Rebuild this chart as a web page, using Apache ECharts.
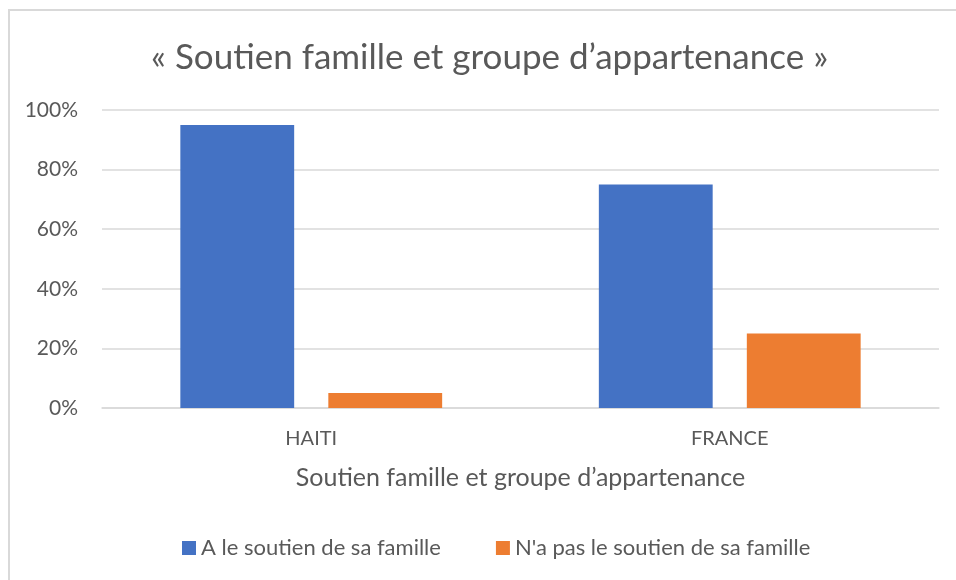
<!DOCTYPE html>
<html><head><meta charset="utf-8">
<script src="https://cdn.jsdelivr.net/npm/echarts@6/dist/echarts.min.js"></script>
<style>html,body{margin:0;padding:0;background:#fff}#c{width:956px;height:580px}</style>
</head><body><div id="c"></div>
<script>
const categories = ['HAITI', 'FRANCE'];
const seriesNames = ['A le soutien de sa famille', "N'a pas le soutien de sa famille"];
const withSupport = [95, 75];
const withoutSupport = [5, 25];
const yTicks = [0, 20, 40, 60, 80, 100];

const FONT = 'Lato, "Open Sans", sans-serif';
const TXT = '#595959';
const chart = echarts.init(document.getElementById('c'));
chart.setOption({
  animation: false,
  textStyle: { fontFamily: FONT },
  graphic: [{ type: 'rect', shape: { x: 9, y: 10, width: 960, height: 600 }, style: { fill: 'none', stroke: '#d9d9d9', lineWidth: 2 }, silent: true }],
  title: { text: '« Soutien famille et groupe d\u2019appartenance »', left: 146, top: 35, textStyle: { fontFamily: FONT, fontSize: 35, fontWeight: 'normal', color: TXT } },
  legend: { bottom: 16, left: 177, itemWidth: 14, itemHeight: 14, itemGap: 55, icon: 'rect', textStyle: { fontFamily: FONT, fontSize: 22, color: TXT } },
  grid: { left: 102, right: 17, top: 110, bottom: 172 },
  xAxis: {
    type: 'category', data: categories,
    name: 'Soutien famille et groupe d\u2019appartenance', nameLocation: 'middle', nameGap: 57,
    nameTextStyle: { fontFamily: FONT, fontSize: 25, color: TXT },
    axisLine: { lineStyle: { color: '#d9d9d9', width: 1.5 } }, axisTick: { show: false },
    axisLabel: { fontFamily: FONT, fontSize: 20, color: TXT, margin: 21 }
  },
  yAxis: {
    type: 'value', min: 0, max: 100, interval: 20,
    axisLabel: { formatter: v => v + '%', fontFamily: FONT, fontSize: 21, color: TXT, margin: 24 },
    splitLine: { lineStyle: { color: '#d9d9d9', width: 1.5 } }, axisLine: { show: false }, axisTick: { show: false }
  },
  series: [
    { name: seriesNames[0], type: 'bar', data: withSupport, barWidth: '27.2%', barGap: '30%', itemStyle: { color: '#4472C4' } },
    { name: seriesNames[1], type: 'bar', data: withoutSupport, barWidth: '27.2%', itemStyle: { color: '#ED7D31' } }
  ]
});
</script></body></html>
